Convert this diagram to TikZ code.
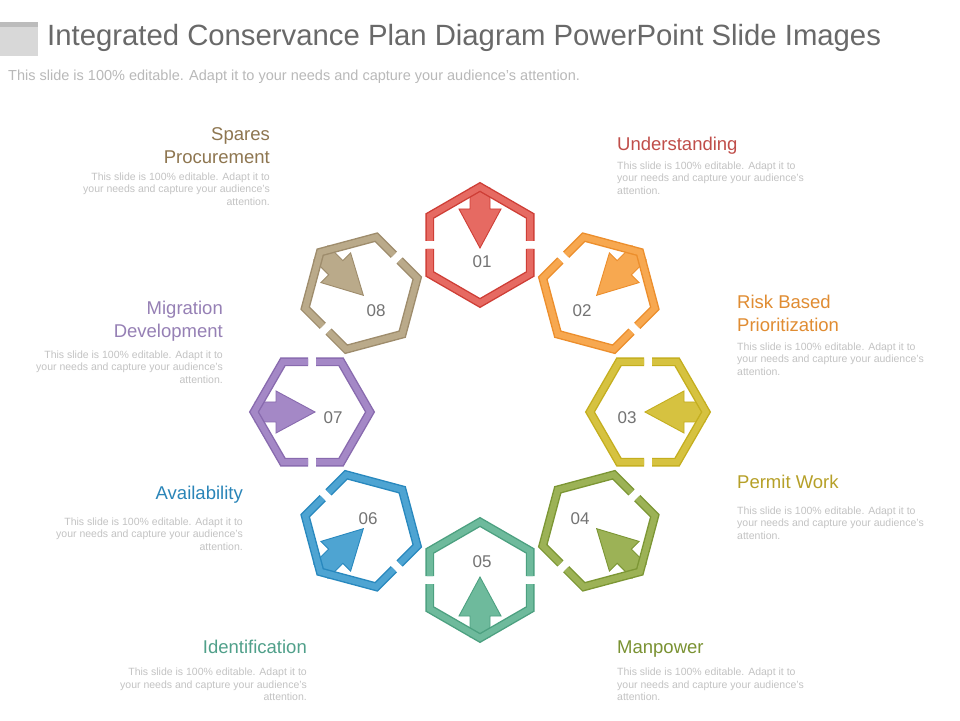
\documentclass[tikz,border=0pt]{standalone}
\usepackage{fontspec}
\setmainfont{Liberation Sans}
\definecolor{reddark}{RGB}{206,62,54}\definecolor{redlight}{RGB}{230,106,98}
\definecolor{orangedark}{RGB}{236,142,44}\definecolor{orangelight}{RGB}{247,168,80}
\definecolor{yellowdark}{RGB}{196,174,30}\definecolor{yellowlight}{RGB}{214,194,64}
\definecolor{olivedark}{RGB}{124,150,52}\definecolor{olivelight}{RGB}{156,178,86}
\definecolor{tealdark}{RGB}{76,160,128}\definecolor{teallight}{RGB}{110,186,156}
\definecolor{bluedark}{RGB}{40,136,190}\definecolor{bluelight}{RGB}{78,164,210}
\definecolor{purpledark}{RGB}{136,106,174}\definecolor{purplelight}{RGB}{164,136,198}
\definecolor{tandark}{RGB}{158,140,108}\definecolor{tanlight}{RGB}{186,170,138}
\definecolor{titlegray}{RGB}{105,105,105}
\definecolor{subgray}{RGB}{185,185,185}
\definecolor{bodygray}{RGB}{195,195,195}
\definecolor{numgray}{RGB}{115,115,115}
\definecolor{boxlight}{RGB}{216,216,216}
\definecolor{boxdark}{RGB}{188,188,188}
\definecolor{txtspares}{RGB}{142,118,80}
\definecolor{txtunder}{RGB}{192,78,74}
\definecolor{txtrisk}{RGB}{224,140,50}
\definecolor{txtpermit}{RGB}{182,160,40}
\definecolor{txtman}{RGB}{122,146,50}
\definecolor{txtident}{RGB}{80,160,138}
\definecolor{txtavail}{RGB}{42,133,184}
\definecolor{txtmig}{RGB}{150,128,181}
\newcommand{\hexring}[4]{%
\begin{scope}[shift={(#1,#2)}, rotate=#3]
  \draw[arrowshape, fill=#4light, draw=#4dark] (-10,57) -- (-10,36) -- (-21,36) -- (0,-3) -- (21,36) -- (10,36) -- (10,57) -- cycle;
  \draw[ring, draw=#4dark, double=#4light] (50.23,4) -- (30:58) -- (90:58) -- (150:58) -- (-50.23,4);
  \draw[ring, draw=#4dark, double=#4light] (-50.23,-4) -- (210:58) -- (270:58) -- (330:58) -- (50.23,-4);
\end{scope}}
\newcommand{\bodytext}{This slide is 100\% editable.  Adapt it to\\your needs and capture your audience's\\attention.}
\begin{document}
\begin{tikzpicture}[x=1pt,y=1pt,
  ring/.style={line width=1.4pt, double distance=6pt, line join=miter},
  arrowshape/.style={line width=0.9pt, line join=miter},
  numlbl/.style={font=\fontsize{17}{17}\selectfont, text=numgray, inner sep=0},
  headL/.style={font=\fontsize{18.5}{23}\selectfont, inner sep=0, anchor=base east, align=right},
  headR/.style={font=\fontsize{18.5}{23}\selectfont, inner sep=0, anchor=base west, align=left},
  bodyL/.style={font=\fontsize{10.5}{12.5}\selectfont, text=bodygray, inner sep=0, anchor=base east, align=right},
  bodyR/.style={font=\fontsize{10.5}{12.5}\selectfont, text=bodygray, inner sep=0, anchor=base west, align=left}]
\fill[white] (0,0) rectangle (960,720);
\useasboundingbox (0,0) rectangle (960,720);
% title decoration
\fill[boxlight] (0,664) rectangle (38,698);
\fill[boxdark] (0,693) rectangle (38,698);
\node[font=\fontsize{29.3}{29.3}\selectfont, text=titlegray, anchor=base west, inner sep=0] (title) at (47,674) {Integrated Conservance Plan Diagram PowerPoint Slide Images};
\node[font=\fontsize{14.5}{14.5}\selectfont, text=subgray, anchor=base west, inner sep=0] (subtitle) at (8,639.5) {This slide is 100\% editable. Adapt it to your needs and capture your audience's attention.};
% hexagons
\hexring{480}{475}{0}{red}
\hexring{598.8}{426.8}{-45}{orange}
\hexring{648}{308}{-90}{yellow}
\hexring{598.8}{189.2}{-135}{olive}
\hexring{480}{140}{180}{teal}
\hexring{361.2}{189.2}{135}{blue}
\hexring{312}{308}{90}{purple}
\hexring{361.2}{426.8}{45}{tan}
% numbers
\node[numlbl] (n1) at (482,458.5) {01};
\node[numlbl] (n2) at (582,409) {02};
\node[numlbl] (n3) at (627,302) {03};
\node[numlbl] (n4) at (580,201) {04};
\node[numlbl] (n5) at (482,158) {05};
\node[numlbl] (n6) at (368,201) {06};
\node[numlbl] (n7) at (333,302) {07};
\node[numlbl] (n8) at (376,409) {08};
% text blocks (anchor base = last line's baseline)
\node[headL, text=txtspares] (h8) at (270,556) {Spares\\Procurement};
\node[bodyL] (b8) at (270,514.5) {\bodytext};
\node[headR, text=txtunder] (h1) at (617,569) {Understanding};
\node[bodyR] (b1) at (617,525.5) {\bodytext};
\node[headL, text=txtmig] (h7) at (223,382) {Migration\\Development};
\node[bodyL] (b7) at (223,336.5) {\bodytext};
\node[headR, text=txtrisk] (h2) at (737,388) {Risk Based\\Prioritization};
\node[bodyR] (b2) at (737,344.5) {\bodytext};
\node[headL, text=txtavail] (h6) at (243,220) {Availability};
\node[bodyL] (b6) at (243,169.5) {\bodytext};
\node[headR, text=txtpermit] (h3) at (737,231) {Permit Work};
\node[bodyR] (b3) at (737,180.5) {\bodytext};
\node[headL, text=txtident] (h5) at (307,67) {Identification};
\node[bodyL] (b5) at (307,19.5) {\bodytext};
\node[headR, text=txtman] (h4) at (617,67) {Manpower};
\node[bodyR] (b4) at (617,19.5) {\bodytext};
\end{tikzpicture}
\end{document}
